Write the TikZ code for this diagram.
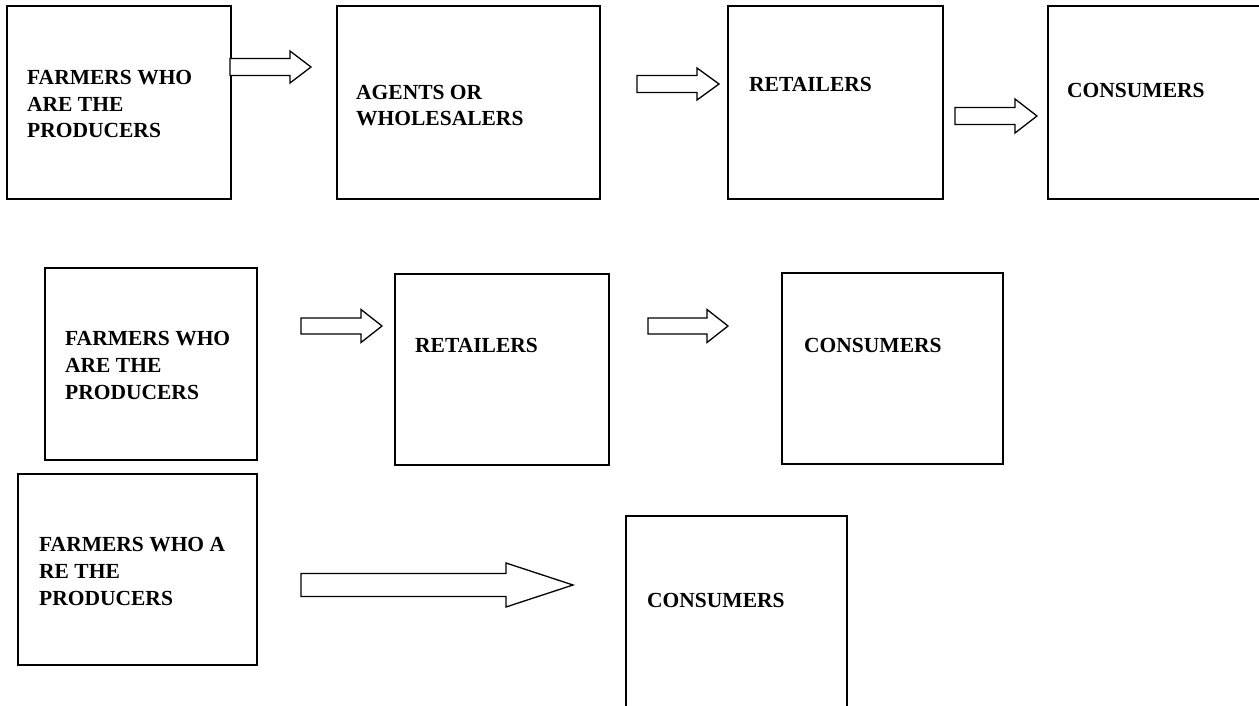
\documentclass[tikz,border=0pt]{standalone}
\usepackage{fontspec}
\setmainfont{Liberation Serif}
\usepackage{tikz}
\usetikzlibrary{calc}

\tikzset{
  box/.style={draw, line width=1.6pt},
  lbl/.style={anchor=base west, inner sep=0pt, align=left,
    font=\bfseries\fontsize{21.5}{26.7}\selectfont},
  fatline/.style={draw, line width=1.3pt, line join=miter, fill=white}
}
\newcommand{\fatarrow}[5]{%
  \draw[fatline] let \p1=(#1), \p2=(#2) in
    (\x1,\y1+#3) -- (\x2-#5,\y1+#3) -- (\x2-#5,\y1+#4) -- (\x2,\y1)
    -- (\x2-#5,\y1-#4) -- (\x2-#5,\y1-#3) -- (\x1,\y1-#3) -- cycle;}

\begin{document}
\begin{tikzpicture}[x=1pt, y=-1pt]

      \useasboundingbox (0,0) rectangle (1259,706);

      \coordinate (FA1) at (7,6);    \coordinate (FA2) at (231,199);
      \coordinate (AW1) at (337,6);  \coordinate (AW2) at (600,199);
      \coordinate (RT1) at (728,6);  \coordinate (RT2) at (943,199);
      \coordinate (CN1) at (1048,6); \coordinate (CN2) at (1275,199);

      \coordinate (FB1) at (45,268);  \coordinate (FB2) at (257,460);
      \coordinate (RB1) at (395,274); \coordinate (RB2) at (609,465);
      \coordinate (CB1) at (782,273); \coordinate (CB2) at (1003,464);

      \coordinate (FC1) at (18,474);  \coordinate (FC2) at (257,665);
      \coordinate (CC1) at (626,516); \coordinate (CC2) at (847,720);

      \foreach \b in {FA,AW,RT,CN,FB,RB,CB,FC,CC}
        \draw[box] (\b1) rectangle (\b2);

      % anchor is the baseline of the last line
      \node[lbl] (tFA) at (27,138) {FARMERS WHO\\ARE THE\\PRODUCERS};
      \node[lbl] (tAW) at (356,126) {AGENTS OR\\WHOLESALERS};
      \node[lbl] (tRT) at (749,92) {RETAILERS};
      \node[lbl] (tCN) at (1067,98) {CONSUMERS};

      \node[lbl] (tFB) at (65,399) {FARMERS WHO\\ARE THE\\PRODUCERS};
      \node[lbl] (tRB) at (415,352) {RETAILERS};
      \node[lbl] (tCB) at (804,352) {CONSUMERS};

      \node[lbl] (tFC) at (39,605) {FARMERS WHO A\\RE THE\\PRODUCERS};
      \node[lbl] (tCC) at (647,607) {CONSUMERS};

      \coordinate (a1) at (230,67);  \coordinate (b1) at (311,67);
      \coordinate (a2) at (637,84);  \coordinate (b2) at (719,84);
      \coordinate (a3) at (955,116); \coordinate (b3) at (1037,116);
      \coordinate (a4) at (301,326); \coordinate (b4) at (382,326);
      \coordinate (a5) at (648,326); \coordinate (b5) at (728,326);
      \coordinate (a6) at (301,585); \coordinate (b6) at (573,585);

      \fatarrow{a1}{b1}{8.5pt}{16pt}{21pt}
      \fatarrow{a2}{b2}{8.5pt}{16pt}{22pt}
      \fatarrow{a3}{b3}{8.5pt}{17pt}{22pt}
      \fatarrow{a4}{b4}{8pt}{16.5pt}{21pt}
      \fatarrow{a5}{b5}{8pt}{16.5pt}{21pt}
      \fatarrow{a6}{b6}{11.5pt}{22pt}{67pt}

    \end{tikzpicture}
\end{document}
